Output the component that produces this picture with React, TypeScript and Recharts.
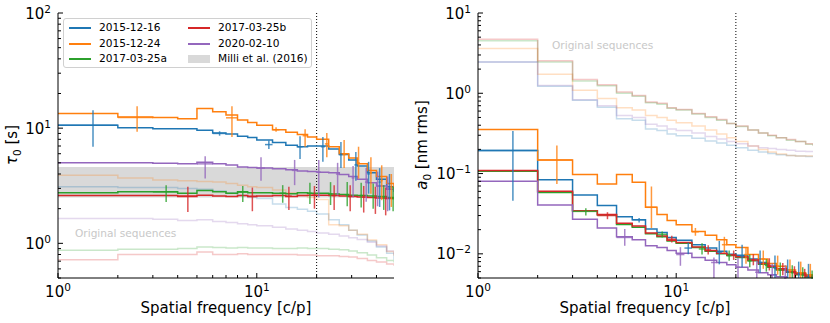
import { ComposedChart, Line, Scatter, ErrorBar, XAxis, YAxis, ReferenceLine, ReferenceArea } from 'recharts';

// left edge of each frequency bin (step plots)
const FREQ = [1, 2, 3, 4, 5, 6, 7, 8, 9, 10, 12, 14, 16, 18, 20, 23, 26, 29, 32, 36, 40, 45, 49];

// tau_0 [s]
const TAU_BLUE = [10.6, 10.1, 9.9, 9.9, 9.6, 9.1, 8.9, 8.5, 8.3, 7.9, 7.5, 7.1, 6.9, 7.0, 7.0, 6.6, 5.9, 5.3, 4.7, 4.1, 3.6, 3.1, 2.8];
const TAU_ORANGE = [13.4, 12.5, 12.4, 12.1, 14.8, 13.9, 13.0, 11.8, 11.2, 10.6, 9.7, 9.2, 8.8, 8.4, 8.0, 6.9, 6.0, 5.5, 4.9, 4.3, 3.8, 3.3, 3.0];
const TAU_GREEN = [2.75, 2.8, 2.8, 2.72, 2.88, 2.8, 2.72, 2.8, 2.75, 2.75, 2.72, 2.7, 2.75, 2.72, 2.72, 2.68, 2.65, 2.62, 2.6, 2.58, 2.55, 2.5, 2.45];
const TAU_RED = [2.6, 2.6, 2.6, 2.55, 2.62, 2.58, 2.55, 2.6, 2.55, 2.58, 2.6, 2.55, 2.6, 2.62, 2.62, 2.6, 2.58, 2.55, 2.53, 2.5, 2.48, 2.45, 2.42];
const TAU_PURPLE = [5.0, 5.0, 4.95, 4.9, 5.05, 4.9, 4.8, 4.6, 4.55, 4.5, 4.45, 4.35, 4.25, 4.2, 4.15, 4.1, 3.95, 3.8, 3.6, 3.35, 3.15, 2.95, 2.8];

// tau_0 of the original sequences
const TAU_ORIG_BLUE = [3.1, 3.05, 3.05, 3.0, 2.95, 2.85, 2.75, 2.6, 2.5, 2.45, 2.2, 2.05, 1.98, 1.9, 1.8, 1.6, 1.45, 1.3, 1.18, 1.05, 0.93, 0.82, 0.72];
const TAU_ORIG_ORANGE = [3.9, 3.7, 3.55, 3.5, 3.45, 3.4, 3.3, 3.2, 3.1, 3.05, 2.9, 2.75, 2.6, 2.5, 2.4, 1.45, 1.42, 1.3, 1.2, 1.07, 0.97, 0.85, 0.78];
const TAU_ORIG_GREEN = [0.87, 0.89, 0.89, 0.9, 0.93, 0.92, 0.91, 0.92, 0.91, 0.91, 0.9, 0.9, 0.91, 0.9, 0.9, 0.89, 0.88, 0.86, 0.83, 0.79, 0.75, 0.71, 0.68];
const TAU_ORIG_RED = [0.72, 0.8, 0.8, 0.8, 0.84, 0.8, 0.8, 0.81, 0.8, 0.8, 0.8, 0.8, 0.79, 0.79, 0.78, 0.78, 0.77, 0.76, 0.74, 0.71, 0.69, 0.66, 0.64];
const TAU_ORIG_PURPLE = [1.64, 1.64, 1.62, 1.58, 1.6, 1.55, 1.52, 1.48, 1.45, 1.42, 1.38, 1.33, 1.3, 1.27, 1.23, 1.2, 1.16, 1.12, 1.08, 1.02, 0.95, 0.86, 0.8];

// Milli et al. (2016) range
const MILLI_LOW = 2.5;
const MILLI_HIGH = 4.6;

// a_0 [nm rms]
const A0_BLUE = [0.194, 0.084, 0.054, 0.04, 0.029, 0.0266, 0.0204, 0.0185, 0.016, 0.0148, 0.013, 0.0118, 0.0108, 0.0099, 0.0096, 0.0086, 0.0078, 0.007, 0.0065, 0.006, 0.0056, 0.0052, 0.005];
const A0_ORANGE = [0.355, 0.148, 0.097, 0.074, 0.097, 0.078, 0.038, 0.031, 0.026, 0.023, 0.019, 0.017, 0.015, 0.013, 0.012, 0.0098, 0.0086, 0.0076, 0.007, 0.0063, 0.0058, 0.0055, 0.0053];
const A0_GREEN = [0.107, 0.058, 0.0345, 0.0305, 0.0232, 0.0215, 0.0178, 0.0163, 0.0145, 0.0135, 0.012, 0.0108, 0.01, 0.0095, 0.009, 0.0082, 0.0074, 0.0068, 0.0063, 0.0059, 0.0055, 0.0052, 0.005];
const A0_RED = [0.109, 0.06, 0.0345, 0.031, 0.024, 0.0222, 0.0182, 0.0167, 0.0148, 0.0138, 0.0122, 0.011, 0.0102, 0.0097, 0.0092, 0.0084, 0.0076, 0.007, 0.0065, 0.006, 0.0056, 0.0053, 0.0051];
const A0_PURPLE = [0.08, 0.0405, 0.027, 0.021, 0.0163, 0.015, 0.0126, 0.012, 0.011, 0.0102, 0.009, 0.0083, 0.0078, 0.0073, 0.0068, 0.0063, 0.0058, 0.0055, 0.0052, 0.0049, 0.0046, 0.0044, 0.0042];

const A0_ORIG_BLUE = [2.46, 1.22, 0.82, 0.67, 0.48, 0.46, 0.36, 0.345, 0.31, 0.295, 0.275, 0.255, 0.24, 0.225, 0.21, 0.195, 0.185, 0.178, 0.172, 0.168, 0.165, 0.163, 0.163];
const A0_ORIG_ORANGE = [3.62, 1.73, 1.09, 0.86, 0.66, 0.62, 0.53, 0.5, 0.46, 0.43, 0.39, 0.35, 0.31, 0.28, 0.25, 0.22, 0.2, 0.185, 0.175, 0.168, 0.166, 0.166, 0.168];
const A0_ORIG_GREEN = [4.5, 2.45, 1.42, 1.24, 1.0, 0.92, 0.76, 0.73, 0.65, 0.62, 0.55, 0.5, 0.46, 0.42, 0.385, 0.35, 0.32, 0.295, 0.28, 0.26, 0.25, 0.232, 0.222];
const A0_ORIG_RED = [4.7, 2.54, 1.48, 1.28, 1.04, 0.94, 0.78, 0.75, 0.66, 0.63, 0.56, 0.51, 0.47, 0.42, 0.39, 0.35, 0.32, 0.3, 0.28, 0.265, 0.25, 0.235, 0.225];
const A0_ORIG_PURPLE = [2.46, 1.25, 0.83, 0.7, 0.53, 0.5, 0.41, 0.39, 0.36, 0.345, 0.32, 0.29, 0.27, 0.25, 0.235, 0.22, 0.21, 0.205, 0.2, 0.195, 0.19, 0.188, 0.186];

// error bars: [bin centre, value, low, high]
const TAU_ERR_BLUE = [[1.5, 10.6, 6.9, 14.3], [6.5, 9.0, 8.6, 9.4], [11.5, 7.2, 6.6, 7.8], [16.5, 6.9, 5.4, 8.5], [21.5, 6.9, 5.1, 8.4], [26.5, 5.9, 4.5, 7.6], [31.5, 4.8, 3.5, 6.2], [36.5, 4.0, 2.7, 5.1], [41.5, 3.4, 2.07, 4.5], [46.5, 3.0, 1.93, 4.0]];
const TAU_ERR_ORANGE = [[2.5, 12.4, 9.3, 15.5], [7.5, 12.3, 8.4, 15.5], [12.5, 9.7, 9.3, 10.2], [17.5, 8.6, 6.9, 9.8], [22.5, 7.3, 5.6, 9.1], [27.5, 5.9, 4.5, 7.9], [32.5, 5.0, 3.65, 6.9], [37.5, 4.1, 2.7, 5.6], [42.5, 3.5, 2.37, 4.76], [47.5, 3.1, 2.07, 4.0]];
const TAU_ERR_GREEN = [[3.5, 2.8, 2.29, 3.2], [8.5, 2.78, 2.29, 3.15], [13.5, 2.72, 2.25, 3.2], [18.5, 2.72, 2.2, 3.35], [23.5, 2.68, 2.15, 3.4], [28.5, 2.62, 2.1, 3.4], [33.5, 2.6, 2.05, 3.35], [38.5, 2.55, 2.0, 3.3], [43.5, 2.5, 1.95, 3.2], [48.5, 2.45, 1.9, 3.1]];
const TAU_ERR_RED = [[4.5, 2.58, 1.87, 3.1], [9.5, 2.56, 1.9, 3.05], [14.5, 2.57, 1.95, 3.1], [19.5, 2.62, 2.0, 3.15], [24.5, 2.6, 1.95, 3.2], [29.5, 2.55, 1.9, 3.2], [34.5, 2.52, 1.85, 3.15], [39.5, 2.49, 1.8, 3.1], [44.5, 2.45, 1.75, 3.05]];
const TAU_ERR_PURPLE = [[5.5, 4.9, 3.65, 5.7], [10.5, 4.5, 3.5, 5.6], [15.5, 4.3, 3.2, 5.3], [20.5, 4.15, 2.5, 5.3], [25.5, 4.0, 2.6, 5.0], [30.5, 3.7, 2.5, 4.7], [35.5, 3.4, 2.3, 4.5], [40.5, 3.15, 2.1, 4.2], [45.5, 2.95, 1.9, 3.8]];

const A0_ERR_BLUE = [[1.5, 0.194, 0.046, 0.338], [6.5, 0.0266, 0.0246, 0.028], [11.5, 0.0118, 0.0099, 0.0138], [16.5, 0.0105, 0.0074, 0.0145], [21.5, 0.0094, 0.0068, 0.013], [26.5, 0.0078, 0.0058, 0.011], [31.5, 0.0066, 0.0048, 0.0095], [36.5, 0.006, 0.0044, 0.0085], [41.5, 0.0056, 0.0041, 0.008], [46.5, 0.0052, 0.0038, 0.0075]];
const A0_ERR_ORANGE = [[2.5, 0.148, 0.074, 0.224], [7.5, 0.038, 0.021, 0.069], [12.5, 0.0188, 0.0168, 0.021], [17.5, 0.013, 0.0104, 0.0163], [22.5, 0.0098, 0.0075, 0.012], [27.5, 0.0086, 0.0065, 0.011], [32.5, 0.007, 0.0055, 0.0095], [37.5, 0.0063, 0.005, 0.0085], [42.5, 0.0058, 0.0047, 0.008], [47.5, 0.0054, 0.0044, 0.0075]];
const A0_ERR_GREEN = [[3.5, 0.0338, 0.03, 0.037], [8.5, 0.0175, 0.016, 0.019], [13.5, 0.0115, 0.0098, 0.0135], [18.5, 0.0095, 0.0082, 0.011], [23.5, 0.0082, 0.0068, 0.0098], [28.5, 0.0072, 0.006, 0.0086], [33.5, 0.0063, 0.0052, 0.0078], [38.5, 0.0058, 0.0048, 0.0072], [43.5, 0.0054, 0.0045, 0.0068], [48.5, 0.005, 0.0042, 0.0062]];
const A0_ERR_RED = [[4.5, 0.03, 0.027, 0.033], [9.5, 0.0152, 0.0138, 0.0168], [14.5, 0.0112, 0.0098, 0.0128], [19.5, 0.0096, 0.0084, 0.011], [24.5, 0.0084, 0.0072, 0.0099], [29.5, 0.0072, 0.0062, 0.0088], [34.5, 0.0063, 0.0054, 0.0077], [39.5, 0.0058, 0.005, 0.007], [44.5, 0.0054, 0.0046, 0.0065]];
const A0_ERR_PURPLE = [[5.5, 0.016, 0.0126, 0.0204], [10.5, 0.0098, 0.0071, 0.0121], [15.5, 0.0078, 0.0046, 0.009], [20.5, 0.0068, 0.004, 0.0088], [25.5, 0.0059, 0.0035, 0.0082], [30.5, 0.0054, 0.0032, 0.0076], [35.5, 0.005, 0.003, 0.0072], [40.5, 0.0046, 0.0028, 0.0068], [45.5, 0.0044, 0.0026, 0.0065]];

const X_DOMAIN = [1, 49];
const X_TICKS = [1, 2, 3, 4, 5, 6, 7, 8, 9, 10, 20, 30, 40];
const TAU_DOMAIN = [0.5, 100];
const TAU_TICKS = [0.5, 0.6, 0.7, 0.8, 0.9, 1, 2, 3, 4, 5, 6, 7, 8, 9, 10, 20, 30, 40, 50, 60, 70, 80, 90, 100];
const A0_DOMAIN = [0.005, 10];
const A0_TICKS = [0.005, 0.006, 0.007, 0.008, 0.009, 0.01, 0.02, 0.03, 0.04, 0.05, 0.06, 0.07, 0.08, 0.09, 0.1, 0.2, 0.3, 0.4, 0.5, 0.6, 0.7, 0.8, 0.9, 1, 2, 3, 4, 5, 6, 7, 8, 9, 10];
const CUTOFF = 20;

const SERIES = [
  { key: 'blue', name: '2015-12-16', color: '#1f77b4' },
  { key: 'orange', name: '2015-12-24', color: '#ff7f0e' },
  { key: 'green', name: '2017-03-25a', color: '#2ca02c' },
  { key: 'red', name: '2017-03-25b', color: '#d62728' },
  { key: 'purple', name: '2020-02-10', color: '#9467bd' },
];

const FONT = '"DejaVu Sans", sans-serif';

const buildTable = (main: number[][], orig: number[][]) =>
  FREQ.map((f, i) => {
    const row: Record<string, number> = { f };
    SERIES.forEach((s, k) => {
      row[s.key] = main[k][i];
      row[s.key + 'Orig'] = orig[k][i];
    });
    return row;
  });

// error bars are not clipped by the plot area, so cut them at the bottom of the axis
const buildErr = (floor: number) => (errs: number[][]) =>
  errs
    .filter(([, v]) => v >= floor)
    .map(([f, v, lo, hi]) => ({ f, v, ey: [v - Math.max(lo, floor), hi - v], ex: 0.5 }));

const TAU_TABLE = buildTable(
  [TAU_BLUE, TAU_ORANGE, TAU_GREEN, TAU_RED, TAU_PURPLE],
  [TAU_ORIG_BLUE, TAU_ORIG_ORANGE, TAU_ORIG_GREEN, TAU_ORIG_RED, TAU_ORIG_PURPLE],
);
const A0_TABLE = buildTable(
  [A0_BLUE, A0_ORANGE, A0_GREEN, A0_RED, A0_PURPLE],
  [A0_ORIG_BLUE, A0_ORIG_ORANGE, A0_ORIG_GREEN, A0_ORIG_RED, A0_ORIG_PURPLE],
);
const TAU_ERRS = [TAU_ERR_BLUE, TAU_ERR_ORANGE, TAU_ERR_GREEN, TAU_ERR_RED, TAU_ERR_PURPLE].map(buildErr(TAU_DOMAIN[0]));
const A0_ERRS = [A0_ERR_BLUE, A0_ERR_ORANGE, A0_ERR_GREEN, A0_ERR_RED, A0_ERR_PURPLE].map(buildErr(A0_DOMAIN[0]));

const isMajor = (v: number) => Math.abs(Math.log10(v) - Math.round(Math.log10(v))) < 1e-6;
const MAJOR = 5;
const MINOR = 3;

function Pow({ v, x, y, anchor }: { v: number; x: number; y: number; anchor: 'middle' | 'end' }) {
  const e = Math.round(Math.log10(v));
  return (
    <text x={x} y={y} textAnchor={anchor} fontSize={15} fontFamily={FONT} fill="#000">
      10
      <tspan dy={-6} fontSize={10.5}>{e < 0 ? '\u2212' + Math.abs(e) : String(e)}</tspan>
    </text>
  );
}

const bottomTick = (p: any) => {
  const v = p.payload.value;
  const len = isMajor(v) ? MAJOR : MINOR;
  return (
    <g>
      <line x1={p.x} x2={p.x} y1={p.y} y2={p.y - len} stroke="#000" />
      {isMajor(v) && <Pow v={v} x={p.x} y={p.y + 18.5} anchor="middle" />}
    </g>
  );
};
const topTick = (p: any) => {
  const len = isMajor(p.payload.value) ? MAJOR : MINOR;
  return <line x1={p.x} x2={p.x} y1={p.y} y2={p.y + len} stroke="#000" />;
};
const leftTick = (p: any) => {
  const v = p.payload.value;
  const len = isMajor(v) ? MAJOR : MINOR;
  return (
    <g>
      <line x1={p.x} x2={p.x + len} y1={p.y} y2={p.y} stroke="#000" />
      {isMajor(v) && <Pow v={v} x={p.x - 7} y={p.y + 5.5} anchor="end" />}
    </g>
  );
};
const rightTick = (p: any) => {
  const len = isMajor(p.payload.value) ? MAJOR : MINOR;
  return <line x1={p.x} x2={p.x - len} y1={p.y} y2={p.y} stroke="#000" />;
};

const AXIS = { stroke: '#000', strokeWidth: 1 };

function Panel({ left, ml, mr, domain, ticks, table, errs, band }: any) {
  return (
    <div style={{ position: 'absolute', left, top: 0 }}>
      <ComposedChart width={420} height={323} data={table} margin={{ top: 13, right: mr, bottom: 15, left: ml }}>
        <XAxis dataKey="f" type="number" scale="log" domain={X_DOMAIN} ticks={X_TICKS} interval={0} allowDataOverflow
          height={30} tickSize={0} tickMargin={0} tickLine={false} axisLine={AXIS} tick={bottomTick} />
        <XAxis xAxisId="top" orientation="top" type="number" scale="log" domain={X_DOMAIN} ticks={X_TICKS} interval={0}
          allowDataOverflow height={0} tickSize={0} tickMargin={0} tickLine={false} axisLine={AXIS} tick={topTick} />
        <YAxis type="number" scale="log" domain={domain} ticks={ticks} interval={0} allowDataOverflow width={50}
          tickSize={0} tickMargin={0} tickLine={false} axisLine={AXIS} tick={leftTick} />
        <YAxis yAxisId="right" orientation="right" type="number" scale="log" domain={domain} ticks={ticks} interval={0}
          allowDataOverflow width={0} tickSize={0} tickMargin={0} tickLine={false} axisLine={AXIS} tick={rightTick} />
        {band && (
          <ReferenceArea x1={X_DOMAIN[0]} x2={X_DOMAIN[1]} y1={band[0]} y2={band[1]} fill="#d9d9d9" fillOpacity={1}
            stroke="none" ifOverflow="hidden" />
        )}
        {SERIES.map((s) => (
          <Line key={s.key + 'Orig'} dataKey={s.key + 'Orig'} type="stepAfter" stroke={s.color} strokeOpacity={0.25}
            strokeWidth={1.5} dot={false} activeDot={false} isAnimationActive={false} />
        ))}
        <ReferenceLine x={CUTOFF} stroke="#000" strokeWidth={1} strokeDasharray="1 2" />
        {SERIES.map((s) => (
          <Line key={s.key} dataKey={s.key} type="stepAfter" stroke={s.color} strokeWidth={1.5} dot={false}
            activeDot={false} isAnimationActive={false} />
        ))}
        {SERIES.map((s, k) => (
          <Scatter key={s.key + 'Err'} data={errs[k]} dataKey="v" shape={() => <g />} isAnimationActive={false}>
            <ErrorBar dataKey="ey" direction="y" width={0} stroke={s.color} strokeOpacity={0.8} strokeWidth={1.5}
              isAnimationActive={false} />
            <ErrorBar dataKey="ex" direction="x" width={0} stroke={s.color} strokeOpacity={0.8} strokeWidth={1.5}
              isAnimationActive={false} />
          </Scatter>
        ))}
      </ComposedChart>
    </div>
  );
}

const textBase = { position: 'absolute' as const, fontFamily: FONT, whiteSpace: 'nowrap' as const, lineHeight: 1 };

function LegendBox() {
  const rows = [9, 25, 40];
  const item = (s: { name: string; color?: string }, col: number, row: number, patch = false) => {
    const hx = col === 0 ? 5 : 124;
    const tx = col === 0 ? 35 : 154;
    const cy = rows[row];
    return (
      <div key={s.name}>
        {patch ? (
          <div style={{ position: 'absolute', left: hx, top: cy - 4, width: 22, height: 8, background: '#d9d9d9' }} />
        ) : (
          <div style={{ position: 'absolute', left: hx, top: cy - 0.75, width: 22, height: 1.5, background: s.color }} />
        )}
        <div style={{ ...textBase, left: tx, top: cy - 6, fontSize: 10.6 }}>{s.name}</div>
      </div>
    );
  };
  return (
    <div style={{ position: 'absolute', left: 63, top: 18, width: 249, height: 50, border: '1px solid #d0d0d0',
      borderRadius: 3, background: 'rgba(255,255,255,0.8)', boxSizing: 'border-box' }}>
      {item(SERIES[0], 0, 0)}
      {item(SERIES[1], 0, 1)}
      {item(SERIES[2], 0, 2)}
      {item(SERIES[3], 1, 0)}
      {item(SERIES[4], 1, 1)}
      {item({ name: 'Milli et al. (2016)' }, 1, 2, true)}
    </div>
  );
}

export default function App() {
  return (
    <div style={{ position: 'absolute', left: 0, top: 0, width: 830, height: 323, background: '#fff', overflow: 'hidden' }}>
      <Panel left={0} ml={8} mr={26} domain={TAU_DOMAIN} ticks={TAU_TICKS} table={TAU_TABLE} errs={TAU_ERRS}
        band={[MILLI_LOW, MILLI_HIGH]} />
      <Panel left={410} ml={18} mr={17} domain={A0_DOMAIN} ticks={A0_TICKS} table={A0_TABLE} errs={A0_ERRS} />
      <LegendBox />
      <div style={{ ...textBase, left: 75, top: 228, fontSize: 10.6, color: '#c8c8c8' }}>Original sequences</div>
      <div style={{ ...textBase, left: 552, top: 40, fontSize: 10.6, color: '#c8c8c8' }}>Original sequences</div>
      <div style={{ ...textBase, left: 226, top: 301, fontSize: 15, transform: 'translateX(-50%)' }}>Spatial frequency [c/p]</div>
      <div style={{ ...textBase, left: 645, top: 301, fontSize: 15, transform: 'translateX(-50%)' }}>Spatial frequency [c/p]</div>
      <div style={{ ...textBase, left: 14, top: 145, fontSize: 15, transform: 'translate(-50%, -50%) rotate(-90deg)' }}>
        <i>τ</i><sub style={{ fontSize: 10.5 }}>0</sub> [s]
      </div>
      <div style={{ ...textBase, left: 424, top: 145, fontSize: 15, transform: 'translate(-50%, -50%) rotate(-90deg)' }}>
        <i>a</i><sub style={{ fontSize: 10.5 }}>0</sub> [nm rms]
      </div>
    </div>
  );
}
